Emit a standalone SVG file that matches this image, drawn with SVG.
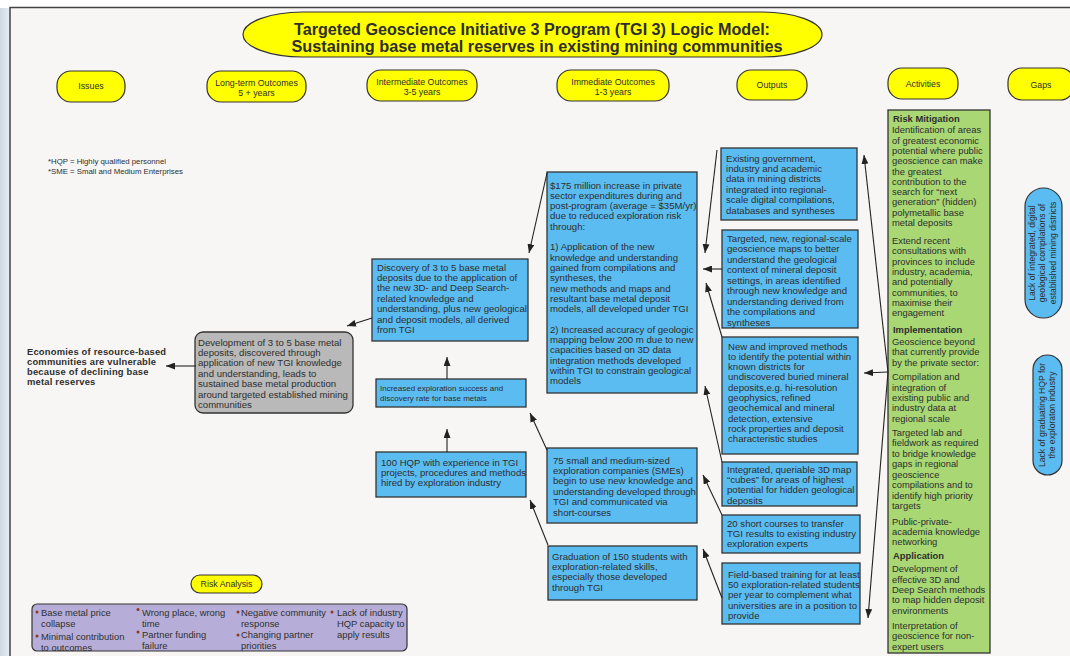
<svg xmlns="http://www.w3.org/2000/svg" width="1070" height="656" viewBox="0 0 1070 656">
<defs>
<linearGradient id="strip" x1="0" y1="0" x2="1" y2="0">
<stop offset="0" stop-color="#cfd8e2"/><stop offset="1" stop-color="#e8edf2"/>
</linearGradient>
<marker id="ah" markerWidth="9" markerHeight="7" refX="9" refY="3.5" orient="auto" markerUnits="userSpaceOnUse">
<path d="M0,0 L9,3.5 L0,7 z" fill="#222"/>
</marker>
<style>
text{font-family:"Liberation Sans",Arial,sans-serif;fill:#2e2e2e}
.pill{fill:#ffff00;stroke:#333;stroke-width:1.2}
.hd{font-size:8.8px;text-anchor:middle}
.blue{fill:#5bbcf1;stroke:#333;stroke-width:1.3}
.bt{font-size:9.6px}
.sm{font-size:8px}
.act{font-size:9.4px}
.b{font-weight:bold}
.con line{stroke:#222;stroke-width:1.1;marker-end:url(#ah)}
.gap{fill:#5bbcf1;stroke:#333;stroke-width:1.2}
.gt{font-size:8.6px;text-anchor:middle}
.bul{fill:#8b3a1f}
</style>
</defs>
<rect x="0" y="0" width="1070" height="656" fill="#ffffff"/>
<rect x="0" y="8" width="10" height="648" fill="url(#strip)"/>
<rect x="10" y="7.5" width="1075" height="660" fill="#f7f6f4" stroke="#444" stroke-width="1.5"/>

<g id="title">
<rect x="243" y="12" width="579" height="45" rx="60" ry="22.5" class="pill"/>
<text x="532" y="34.5" font-size="16" font-weight="bold" text-anchor="middle" fill="#222" textLength="476" lengthAdjust="spacingAndGlyphs">Targeted Geoscience Initiative 3 Program (TGI 3) Logic Model:</text>
<text x="537" y="51.5" font-size="16" font-weight="bold" text-anchor="middle" fill="#222" textLength="491" lengthAdjust="spacingAndGlyphs">Sustaining base metal reserves in existing mining communities</text>
</g>

<g id="h-issues"><rect x="57" y="71" width="68" height="31" rx="14" class="pill"/><text x="91" y="89" class="hd">Issues</text></g>
<g id="h-longterm"><rect x="207" y="71" width="99" height="31" rx="14" class="pill"/><text x="256.5" y="86" class="hd">Long-term Outcomes</text><text x="256.5" y="96" class="hd">5 + years</text></g>
<g id="h-intermediate"><rect x="367" y="70" width="110" height="31" rx="14" class="pill"/><text x="422" y="85" class="hd">Intermediate Outcomes</text><text x="422" y="95" class="hd">3-5 years</text></g>
<g id="h-immediate"><rect x="557" y="70" width="112" height="31" rx="14" class="pill"/><text x="613" y="85" class="hd">Immediate Outcomes</text><text x="613" y="95" class="hd">1-3 years</text></g>
<g id="h-outputs"><rect x="737" y="70" width="70" height="30" rx="14" class="pill"/><text x="772" y="88" class="hd">Outputs</text></g>
<g id="h-activities"><rect x="888" y="68" width="70" height="31" rx="14" class="pill"/><text x="923" y="87" class="hd">Activities</text></g>
<g id="h-gaps"><rect x="1008" y="68" width="66" height="32" rx="14" class="pill"/><text x="1041" y="88" class="hd">Gaps</text></g>

<g id="footnote">
<text x="48" y="164" font-size="7.8">*HQP = Highly qualified personnel</text>
<text x="48" y="173.5" font-size="7.8">*SME = Small and Medium Enterprises</text>
</g>

<g id="issue">
<text x="27" class="b" font-size="9.4" letter-spacing="0.2"><tspan x="27" y="354.5">Economies of resource-based</tspan><tspan x="27" y="364.8">communities are vulnerable</tspan><tspan x="27" y="375.1">because of declining base</tspan><tspan x="27" y="385.4">metal reserves</tspan></text>
</g>

<g id="longterm">
<rect x="195" y="332" width="158" height="81" rx="8" fill="#b9b9b9" stroke="#333" stroke-width="1.3"/>
<text class="bt"><tspan x="198" y="345.5">Development of 3 to 5 base metal</tspan><tspan x="198" y="355.9">deposits, discovered through</tspan><tspan x="198" y="366.3">application of new TGI knowledge</tspan><tspan x="198" y="376.7">and understanding, leads to</tspan><tspan x="198" y="387.1">sustained base metal production</tspan><tspan x="198" y="397.5">around targeted established mining</tspan><tspan x="198" y="407.9">communities</tspan></text>
</g>

<g id="discovery">
<rect x="372" y="259" width="156" height="82" class="blue"/>
<text class="bt"><tspan x="377" y="270.5">Discovery of 3 to 5 base metal</tspan><tspan x="377" y="280.9">deposits due  to the application of</tspan><tspan x="377" y="291.3">the new 3D- and Deep Search-</tspan><tspan x="377" y="301.7">related knowledge and</tspan><tspan x="377" y="312.1">understanding, plus new geological</tspan><tspan x="377" y="322.5">and deposit models, all derived</tspan><tspan x="377" y="332.9">from TGI</tspan></text>
</g>

<g id="success">
<rect x="376" y="379" width="150" height="28" class="blue"/>
<text class="sm"><tspan x="380" y="391">Increased exploration success and</tspan><tspan x="380" y="400.5">discovery rate for base metals</tspan></text>
</g>

<g id="hqp">
<rect x="376" y="452" width="150" height="45" class="blue"/>
<text class="bt"><tspan x="381" y="465.5">100 HQP with experience in TGI</tspan><tspan x="381" y="475.9">projects, procedures and methods</tspan><tspan x="381" y="486.3">hired by exploration industry</tspan></text>
</g>

<g id="expenditures">
<rect x="547" y="172" width="150" height="221" class="blue"/>
<text class="bt"><tspan x="550" y="188.5">$175 million increase in private</tspan><tspan x="550" y="198.8">sector expenditures during and</tspan><tspan x="550" y="209.1">post-program (average = $35M/yr)</tspan><tspan x="550" y="219.4">due to reduced exploration risk</tspan><tspan x="550" y="229.7">through:</tspan><tspan x="550" y="250.3">1) Application of the new</tspan><tspan x="550" y="260.6">knowledge and understanding</tspan><tspan x="550" y="270.9">gained from compilations and</tspan><tspan x="550" y="281.2">syntheses, the</tspan><tspan x="550" y="291.5">new methods and maps and</tspan><tspan x="550" y="301.8">resultant base metal deposit</tspan><tspan x="550" y="312.1">models, all developed under TGI</tspan><tspan x="550" y="332.7">2) Increased accuracy of geologic</tspan><tspan x="550" y="343">mapping below 200 m due to new</tspan><tspan x="550" y="353.3">capacities based on 3D data</tspan><tspan x="550" y="363.6">integration methods developed</tspan><tspan x="550" y="373.9">within TGI to constrain geological</tspan><tspan x="550" y="384.2">models</tspan></text>
</g>

<g id="smes">
<rect x="547" y="448" width="150" height="75" class="blue"/>
<text class="bt"><tspan x="553" y="463.5">75 small and medium-sized</tspan><tspan x="553" y="473.9">exploration companies (SMEs)</tspan><tspan x="553" y="484.3">begin to use new knowledge and</tspan><tspan x="553" y="494.7">understanding developed through</tspan><tspan x="553" y="505.1">TGI and communicated via</tspan><tspan x="553" y="515.5">short-courses</tspan></text>
</g>

<g id="graduation">
<rect x="548" y="546" width="149" height="54" class="blue"/>
<text class="bt"><tspan x="552" y="559.5">Graduation of 150 students with</tspan><tspan x="552" y="569.9">exploration-related skills,</tspan><tspan x="552" y="580.3">especially those developed</tspan><tspan x="552" y="590.7">through TGI</tspan></text>
</g>

<g id="out-compilations">
<rect x="721" y="148" width="136" height="72" class="blue"/>
<text class="bt"><tspan x="726" y="161.5">Existing government,</tspan><tspan x="726" y="171.9">industry and academic</tspan><tspan x="726" y="182.3">data in mining districts</tspan><tspan x="726" y="192.7">integrated into regional-</tspan><tspan x="726" y="203.1">scale digital compilations,</tspan><tspan x="726" y="213.5">databases and syntheses</tspan></text>
</g>

<g id="out-maps">
<rect x="722" y="230" width="136" height="98" class="blue"/>
<text class="bt"><tspan x="727" y="241.5">Targeted, new, regional-scale</tspan><tspan x="727" y="252">geoscience maps to better</tspan><tspan x="727" y="262.5">understand the geological</tspan><tspan x="727" y="273">context of mineral deposit</tspan><tspan x="727" y="283.5">settings, in areas identified</tspan><tspan x="727" y="294">through new knowledge and</tspan><tspan x="727" y="304.5">understanding derived from</tspan><tspan x="727" y="315">the compilations and</tspan><tspan x="727" y="325.5">syntheses</tspan></text>
</g>

<g id="out-methods">
<rect x="722" y="337" width="136" height="117" class="blue"/>
<text class="bt"><tspan x="728" y="349.5">New and improved methods</tspan><tspan x="728" y="359.8">to identify the potential within</tspan><tspan x="728" y="370.1">known districts for</tspan><tspan x="728" y="380.4">undiscovered buried mineral</tspan><tspan x="728" y="390.7">deposits,e.g. hi-resolution</tspan><tspan x="728" y="401">geophysics, refined</tspan><tspan x="728" y="411.3">geochemical and mineral</tspan><tspan x="728" y="421.6">detection, extensive</tspan><tspan x="728" y="431.9">rock properties and deposit</tspan><tspan x="728" y="442.2">characteristic studies</tspan></text>
</g>

<g id="out-cubes">
<rect x="722" y="462" width="135" height="44" class="blue"/>
<text class="bt"><tspan x="727" y="472.5">Integrated, queriable 3D map</tspan><tspan x="727" y="482.9">“cubes” for areas of highest</tspan><tspan x="727" y="493.3">potential for hidden geological</tspan><tspan x="727" y="503.7">deposits</tspan></text>
</g>

<g id="out-courses">
<rect x="722" y="515" width="138" height="38" class="blue"/>
<text class="bt"><tspan x="727" y="526.5">20 short courses to transfer</tspan><tspan x="727" y="536.9">TGI results to existing industry</tspan><tspan x="727" y="547.3">exploration experts</tspan></text>
</g>

<g id="out-training">
<rect x="722" y="563" width="138" height="61" class="blue"/>
<text class="bt"><tspan x="728" y="577.5">Field-based training for at least</tspan><tspan x="728" y="587.9">50 exploration-related students</tspan><tspan x="728" y="598.3">per year to complement what</tspan><tspan x="728" y="608.7">universities are in a position to</tspan><tspan x="728" y="619.1">provide</tspan></text>
</g>

<g id="activities">
<rect x="888" y="110" width="102" height="543" fill="#a8d774" stroke="#333" stroke-width="1.3"/>
<text class="act">
<tspan x="893" y="121.5" class="b">Risk Mitigation</tspan>
<tspan x="892" y="133.3">Identification of areas</tspan>
<tspan x="892" y="143.6">of greatest economic</tspan>
<tspan x="892" y="153.9">potential where public</tspan>
<tspan x="892" y="164.2">geoscience can make</tspan>
<tspan x="892" y="174.5">the greatest</tspan>
<tspan x="892" y="184.8">contribution to the</tspan>
<tspan x="892" y="195.1">search for “next</tspan>
<tspan x="892" y="205.4">generation” (hidden)</tspan>
<tspan x="892" y="215.7">polymetallic base</tspan>
<tspan x="892" y="226">metal deposits</tspan>
<tspan x="892" y="244">Extend recent</tspan>
<tspan x="892" y="254.3">consultations with</tspan>
<tspan x="892" y="264.6">provinces to include</tspan>
<tspan x="892" y="274.9">industry, academia,</tspan>
<tspan x="892" y="285.2">and potentially</tspan>
<tspan x="892" y="295.5">communities, to</tspan>
<tspan x="892" y="305.8">maximise their</tspan>
<tspan x="892" y="316.1">engagement</tspan>
<tspan x="893" y="333" class="b">Implementation</tspan>
<tspan x="892" y="345">Geoscience beyond</tspan>
<tspan x="892" y="355.3">that currently provide</tspan>
<tspan x="892" y="365.6">by the private sector:</tspan>
<tspan x="892" y="380.3">Compilation and</tspan>
<tspan x="892" y="390.6">integration of</tspan>
<tspan x="892" y="401.2">existing public and</tspan>
<tspan x="892" y="411.2">industry data at</tspan>
<tspan x="892" y="421.8">regional scale</tspan>
<tspan x="892" y="436">Targeted lab and</tspan>
<tspan x="892" y="446.3">fieldwork as required</tspan>
<tspan x="892" y="456.8">to bridge knowledge</tspan>
<tspan x="892" y="467">gaps in regional</tspan>
<tspan x="892" y="477.7">geoscience</tspan>
<tspan x="892" y="487.9">compilations and to</tspan>
<tspan x="892" y="498.5">identify high priority</tspan>
<tspan x="892" y="508.7">targets</tspan>
<tspan x="892" y="524.8">Public-private-</tspan>
<tspan x="892" y="535.1">academia knowledge</tspan>
<tspan x="892" y="545.4">networking</tspan>
<tspan x="893" y="559" class="b">Application</tspan>
<tspan x="892" y="572">Development of</tspan>
<tspan x="892" y="582.8">effective 3D and</tspan>
<tspan x="892" y="593">Deep Search methods</tspan>
<tspan x="892" y="603">to map hidden deposit</tspan>
<tspan x="892" y="613.6">environments</tspan>
<tspan x="892" y="629">Interpretation of</tspan>
<tspan x="892" y="639">geoscience for non-</tspan>
<tspan x="892" y="649.6">expert users</tspan>
</text>
</g>

<g id="gap-compilations">
<rect x="1025" y="188" width="37" height="130" rx="18.5" class="gap"/>
<text transform="translate(1043.5,253) rotate(-90)" class="gt"><tspan x="0" y="-8.5">Lack of integrated, digital</tspan><tspan x="0" y="1.8">geological compilations of</tspan><tspan x="0" y="12.3">established mining districts</tspan></text>
</g>

<g id="gap-hqp">
<rect x="1033" y="355" width="29" height="120" rx="14.5" class="gap"/>
<text transform="translate(1047.5,415) rotate(-90)" class="gt"><tspan x="0" y="-2.5">Lack of graduating HQP for</tspan><tspan x="0" y="7.8">the exploraton industry</tspan></text>
</g>

<g id="risk-title">
<rect x="191" y="575" width="71" height="18" rx="9" class="pill"/>
<text x="226.5" y="587.3" font-size="8.8" text-anchor="middle">Risk Analysis</text>
</g>

<g id="risks">
<rect x="32" y="604" width="375" height="47" rx="5" fill="#b6aed8" stroke="#333" stroke-width="1.2"/>
<circle cx="37" cy="612" r="1.5" class="bul"/><circle cx="37" cy="636" r="1.5" class="bul"/>
<circle cx="138" cy="609.5" r="1.5" class="bul"/><circle cx="138" cy="632" r="1.5" class="bul"/>
<circle cx="238" cy="612" r="1.5" class="bul"/><circle cx="238" cy="635" r="1.5" class="bul"/>
<circle cx="332" cy="612" r="1.5" class="bul"/>
<text font-size="9.4">
<tspan x="41" y="616">Base metal price</tspan><tspan x="41" y="627">collapse</tspan><tspan x="41" y="640">Minimal contribution</tspan><tspan x="41" y="650.5">to outcomes</tspan>
<tspan x="142" y="616">Wrong place, wrong</tspan><tspan x="142" y="627">time</tspan><tspan x="142" y="638">Partner funding</tspan><tspan x="142" y="648.5">failure</tspan>
<tspan x="241" y="616">Negative community</tspan><tspan x="241" y="627">response</tspan><tspan x="241" y="638">Changing partner</tspan><tspan x="241" y="648.5">priorities</tspan>
<tspan x="337" y="616">Lack of industry</tspan><tspan x="337" y="627">HQP capacity to</tspan><tspan x="337" y="638">apply results</tspan>
</text>
</g>

<g id="connectors" class="con">
<line x1="196" y1="366" x2="166" y2="366"/>
<line x1="372" y1="318" x2="347" y2="326"/>
<line x1="447" y1="379" x2="447" y2="357"/>
<line x1="547" y1="173" x2="529" y2="253"/>
<line x1="547" y1="450" x2="530" y2="413"/>
<line x1="447" y1="452" x2="447" y2="429"/>
<line x1="548" y1="545" x2="530" y2="500"/>
<line x1="717" y1="150" x2="705" y2="253"/>
<line x1="722" y1="269" x2="703" y2="269"/>
<line x1="722" y1="337" x2="706" y2="283"/>
<line x1="722" y1="462" x2="705" y2="386"/>
<line x1="722" y1="515" x2="703" y2="475"/>
<line x1="722" y1="598" x2="703" y2="549"/>
<line x1="888" y1="372" x2="864" y2="155"/>
<line x1="888" y1="372" x2="864" y2="373"/>
<line x1="888" y1="372" x2="868" y2="618"/>
</g>
</svg>
